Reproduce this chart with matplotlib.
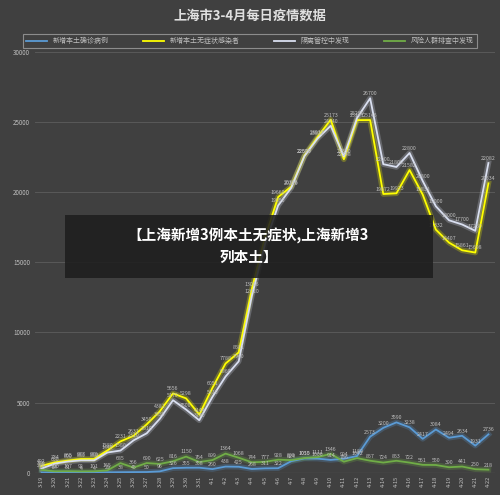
import matplotlib
matplotlib.use("Agg")
import matplotlib.pyplot as plt
import numpy as np

plt.rcParams['font.family'] = ['Noto Sans CJK SC', 'DejaVu Sans']

dates = ['3-19','3-20','3-21','3-22','3-23','3-24','3-25','3-26','3-27','3-28','3-29','3-30','3-31',
         '4-1','4-2','4-3','4-4','4-5','4-6','4-7','4-8','4-9','4-10','4-11','4-12','4-13','4-14',
         '4-15','4-16','4-17','4-18','4-19','4-20','4-21','4-22']
confirmed = [17,24,31,4,4,29,38,45,50,96,326,355,358,260,438,425,268,311,322,824,1015,1006,914,994,1189,
             2573,3200,3590,3238,2417,3084,2494,2634,1931,2736]
asymptomatic = [492,734,865,977,979,1580,2231,2631,3450,4381,5656,5298,4144,6051,7788,8581,13086,16766,19660,
                20398,22609,23937,25173,22348,25141,25146,19872,19923,21582,19831,17332,16407,15861,15698,20634]
quarantine = [300,650,800,880,880,1440,1580,2310,2810,3850,5170,4500,3740,5410,6860,7940,12610,16300,19050,
              20320,22570,23830,24740,22550,25290,26700,22000,21800,22800,20800,19000,18000,17700,17250,22082]
screening = [200,100,107,92,101,165,685,366,690,625,816,1150,764,899,1364,1068,744,777,928,899,1050,1111,1346,
             786,1042,857,724,853,722,561,550,390,441,250,218]

bg = '#404040'
fig = plt.figure(figsize=(5, 4.95), dpi=100, facecolor=bg)
ax = fig.add_axes([0.07, 0.045, 0.92, 0.85])
ax.set_facecolor(bg)
x = np.arange(len(dates))

series = [(confirmed, '#5b9bd5', '新增本土确诊病例'),
          (asymptomatic, '#ffff00', '新增本土无症状感染者'),
          (quarantine, '#d9dff0', '隔离管控中发现'),
          (screening, '#70ad47', '风险人群排查中发现')]
handles = []
for vals, c, lab in series:
    ax.plot(x, vals, color=c, lw=4, alpha=0.25, zorder=2)
    h, = ax.plot(x, vals, color=c, lw=1.3, label=lab, zorder=3)
    handles.append(h)
    for xi, v in zip(x, vals):
        ax.text(xi, v + 150, str(v), fontsize=3.8, color='#bfbfbf', ha='center', va='bottom', zorder=4)

ax.set_ylim(0, 30000)
ax.set_xlim(-0.5, len(dates) - 0.5)
ax.set_yticks(range(0, 30001, 5000))
ax.tick_params(axis='y', labelsize=4.5, colors='#bfbfbf', length=0)
ax.set_xticks(x)
ax.set_xticklabels(dates, rotation=90, fontsize=4, color='#bfbfbf')
ax.tick_params(axis='x', length=0, pad=2)
ax.grid(axis='y', color='#595959', lw=0.7)
ax.set_axisbelow(True)
for s in ax.spines.values():
    s.set_visible(False)
ax.axhline(0, color='#7f7f7f', lw=0.8)

fig.text(0.5, 0.968, '上海市3-4月每日疫情数据', ha='center', va='center', fontsize=9.5,
         color='#e0e0e0', fontweight='bold')
leg = fig.legend(handles=handles, loc='center', bbox_to_anchor=(0.5, 0.917), ncol=4, fontsize=5,
                 frameon=True, facecolor=bg, edgecolor='#a0a0a0', labelcolor='#bfbfbf',
                 handlelength=3, columnspacing=5, borderpad=0.4)
leg.get_frame().set_linewidth(0.8)
leg.get_frame().set_boxstyle('square', pad=0)

fig.patches.append(plt.Rectangle((0.13, 0.438), 0.735, 0.127, transform=fig.transFigure,
                                 facecolor='#1e1e1e', alpha=0.88, zorder=10))
fig.text(0.497, 0.502, '【上海新增3例本土无症状,上海新增3\n列本土】', ha='center', va='center',
         fontsize=10.5, color='white', fontweight='bold', zorder=11, linespacing=1.4)

fig.savefig('out.png', dpi=100, facecolor=bg)
